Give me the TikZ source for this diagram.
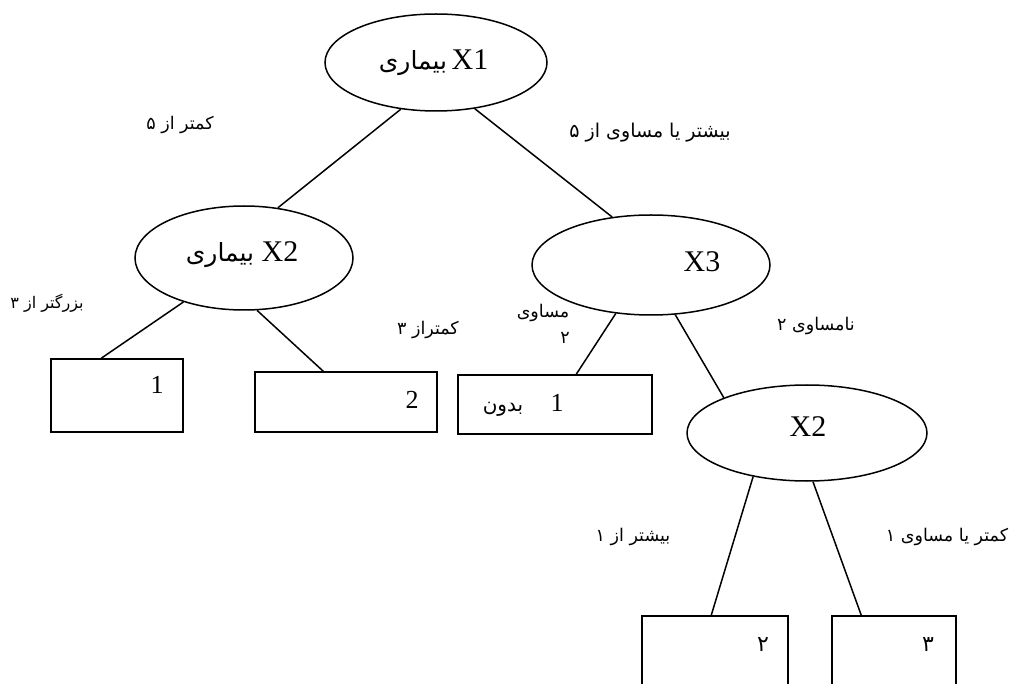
\documentclass[tikz,border=0pt]{standalone}
\usepackage{fontspec}
\setmainfont{Liberation Serif}
\newfontfamily\fa[Script=Arabic]{DejaVu Sans}
\TeXXeTstate=1
\usetikzlibrary{shapes.geometric}

% right-to-left Persian run
\newcommand\rtl[1]{{\fa\beginR #1\endR}}

\begin{document}
\begin{tikzpicture}[x=1pt,y=-1pt,
  oval/.style={draw, ellipse, line width=1.5pt, inner sep=0pt},
  leaf/.style={draw, rectangle, line width=1.5pt, inner sep=0pt},
  edge/.style={line width=1.5pt},
  lbl/.style={inner sep=0pt, font=\fontsize{17.5}{20}\selectfont},
  big/.style={inner sep=0pt, font=\fontsize{30}{32}\selectfont},
  bigfa/.style={inner sep=0pt, font=\fontsize{25}{27}\selectfont},
  digit/.style={inner sep=0pt, font=\fontsize{26}{28}\selectfont}]
\useasboundingbox (0,0) rectangle (1015,684);
\clip (0,0) rectangle (1015,684);

% decision nodes
\node[oval, minimum width=222pt, minimum height=97pt]  (x1)  at (436,62.5) {};
\node[oval, minimum width=218pt, minimum height=104pt] (x2a) at (244,258) {};
\node[oval, minimum width=238pt, minimum height=100pt] (x3)  at (651,265) {};
\node[oval, minimum width=240pt, minimum height=96pt]  (x2b) at (807,433) {};

% leaves
\node[leaf, minimum width=132pt, minimum height=73pt] (box1) at (117,395.5) {};
\node[leaf, minimum width=182pt, minimum height=60pt] (box2) at (346,402) {};
\node[leaf, minimum width=194pt, minimum height=59pt] (box3) at (555,404.5) {};
\node[leaf, minimum width=146pt, minimum height=94pt] (box4) at (715,663) {};
\node[leaf, minimum width=124pt, minimum height=94pt] (box5) at (894,663) {};

% branches
\draw[edge] (x1.-127) -- (x2a.56);
\draw[edge] (x1.-50) -- (x3.129);
\draw[edge] (x2a.-144) -- ([xshift=51pt]box1.north west);
\draw[edge] (x2a.-76) -- ([xshift=69pt]box2.north west);
\draw[edge] (x3.-126) -- ([xshift=119pt]box3.north west);
\draw[edge] (x3.-64) -- (x2b.157);
\draw[edge] (x2b.-141) -- ([xshift=70pt]box4.north west);
\draw[edge] (x2b.-83) -- ([xshift=30pt]box5.north west);

% node texts
\node[big, anchor=base] (t1) at (470,70) {X1};
\node[bigfa, anchor=base] (t1fa) at (413,70) {\rtl{بیماری}};
\node[big, anchor=base] (t2) at (280,262) {X2};
\node[bigfa, anchor=base] (t2fa) at (220,262) {\rtl{بیماری}};
\node[big, anchor=base] (t3) at (702,272) {X3};
\node[big, anchor=base] (t4) at (808,437) {X2};

% leaf texts
\node[digit] (d1) at (157,385) {1};
\node[digit] (d2) at (412,400) {2};
\node[digit] (d3) at (557,403) {1};
\node[lbl, font=\fontsize{20}{22}\selectfont] (d3fa) at (503,409) {\rtl{بدون}};
\node[lbl, font=\fontsize{22}{24}\selectfont] (d4) at (763,645) {\rtl{۲}};
\node[lbl, font=\fontsize{22}{24}\selectfont] (d5) at (928,645) {\rtl{۳}};

% branch conditions
\node[lbl] (c1) at (180,125) {\rtl{کمتر از ۵}};
\node[lbl, font=\fontsize{19}{21}\selectfont] (c2) at (650,133) {\rtl{بیشتر یا مساوی از ۵}};
\node[lbl, font=\fontsize{16}{18}\selectfont] (c3) at (47,303) {\rtl{بزرگتر از ۳}};
\node[lbl] (c4) at (428,330) {\rtl{کمتراز ۳}};
\node[lbl] (c5) at (543,313) {\rtl{مساوی}};
\node[lbl] (c5b) at (565,338) {\rtl{۲}};
\node[lbl] (c6) at (816,326) {\rtl{نامساوی ۲}};
\node[lbl] (c7) at (633,537) {\rtl{بیشتر از ۱}};
\node[lbl] (c8) at (947,537) {\rtl{کمتر یا مساوی ۱}};
\end{tikzpicture}
\end{document}
